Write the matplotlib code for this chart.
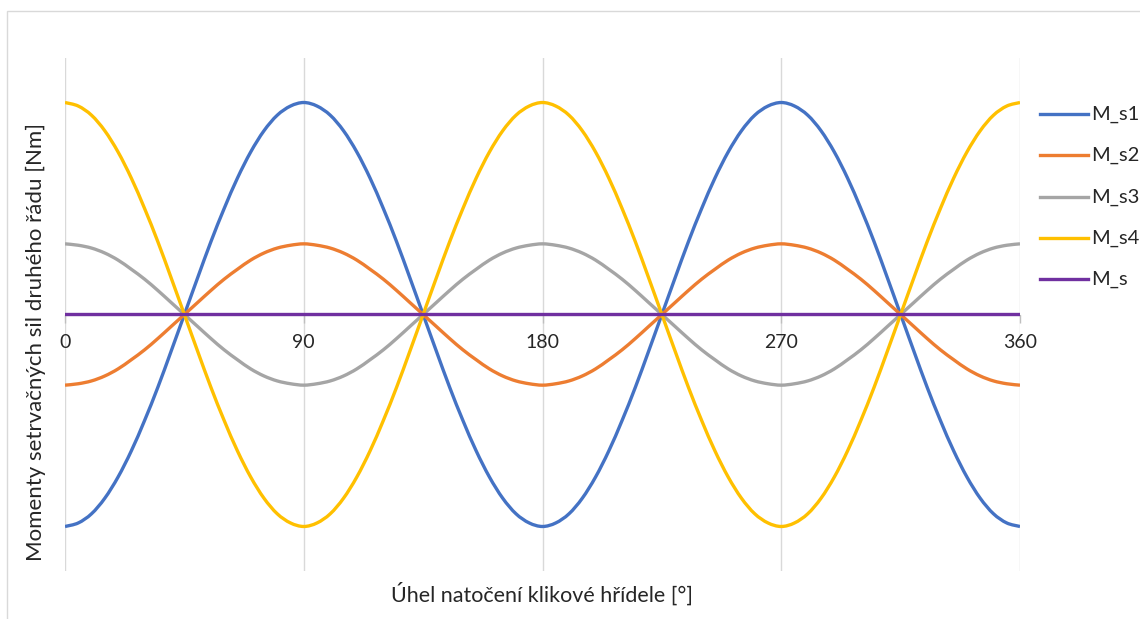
import matplotlib
matplotlib.use("Agg")
import matplotlib.pyplot as plt
from matplotlib.patches import Rectangle, PathPatch
from matplotlib.path import Path
from matplotlib.lines import Line2D

plt.rcParams['font.family'] = ['Lato', 'DejaVu Sans']

# ---- data (angle in degrees, moments, relative units) ----
angle = [0, 5, 10, 15, 20, 25, 30, 35, 40, 45, 50, 55, 60, 65, 70, 75, 80, 85, 90,
         95, 100, 105, 110, 115, 120, 125, 130, 135, 140, 145, 150, 155, 160, 165, 170, 175, 180,
         185, 190, 195, 200, 205, 210, 215, 220, 225, 230, 235, 240, 245, 250, 255, 260, 265, 270,
         275, 280, 285, 290, 295, 300, 305, 310, 315, 320, 325, 330, 335, 340, 345, 350, 355, 360]

M_s1 = [-3.00, -2.95, -2.82, -2.60, -2.30, -1.93, -1.50, -1.03, -0.52, 0.00, 0.52, 1.03, 1.50, 1.93, 2.30, 2.60, 2.82, 2.95, 3.00,
        2.95, 2.82, 2.60, 2.30, 1.93, 1.50, 1.03, 0.52, 0.00, -0.52, -1.03, -1.50, -1.93, -2.30, -2.60, -2.82, -2.95, -3.00,
        -2.95, -2.82, -2.60, -2.30, -1.93, -1.50, -1.03, -0.52, 0.00, 0.52, 1.03, 1.50, 1.93, 2.30, 2.60, 2.82, 2.95, 3.00,
        2.95, 2.82, 2.60, 2.30, 1.93, 1.50, 1.03, 0.52, 0.00, -0.52, -1.03, -1.50, -1.93, -2.30, -2.60, -2.82, -2.95, -3.00]

M_s2 = [-1.00, -0.98, -0.94, -0.87, -0.77, -0.64, -0.50, -0.34, -0.17, 0.00, 0.17, 0.34, 0.50, 0.64, 0.77, 0.87, 0.94, 0.98, 1.00,
        0.98, 0.94, 0.87, 0.77, 0.64, 0.50, 0.34, 0.17, 0.00, -0.17, -0.34, -0.50, -0.64, -0.77, -0.87, -0.94, -0.98, -1.00,
        -0.98, -0.94, -0.87, -0.77, -0.64, -0.50, -0.34, -0.17, 0.00, 0.17, 0.34, 0.50, 0.64, 0.77, 0.87, 0.94, 0.98, 1.00,
        0.98, 0.94, 0.87, 0.77, 0.64, 0.50, 0.34, 0.17, 0.00, -0.17, -0.34, -0.50, -0.64, -0.77, -0.87, -0.94, -0.98, -1.00]

M_s3 = [1.00, 0.98, 0.94, 0.87, 0.77, 0.64, 0.50, 0.34, 0.17, 0.00, -0.17, -0.34, -0.50, -0.64, -0.77, -0.87, -0.94, -0.98, -1.00,
        -0.98, -0.94, -0.87, -0.77, -0.64, -0.50, -0.34, -0.17, 0.00, 0.17, 0.34, 0.50, 0.64, 0.77, 0.87, 0.94, 0.98, 1.00,
        0.98, 0.94, 0.87, 0.77, 0.64, 0.50, 0.34, 0.17, 0.00, -0.17, -0.34, -0.50, -0.64, -0.77, -0.87, -0.94, -0.98, -1.00,
        -0.98, -0.94, -0.87, -0.77, -0.64, -0.50, -0.34, -0.17, 0.00, 0.17, 0.34, 0.50, 0.64, 0.77, 0.87, 0.94, 0.98, 1.00]

M_s4 = [3.00, 2.95, 2.82, 2.60, 2.30, 1.93, 1.50, 1.03, 0.52, 0.00, -0.52, -1.03, -1.50, -1.93, -2.30, -2.60, -2.82, -2.95, -3.00,
        -2.95, -2.82, -2.60, -2.30, -1.93, -1.50, -1.03, -0.52, 0.00, 0.52, 1.03, 1.50, 1.93, 2.30, 2.60, 2.82, 2.95, 3.00,
        2.95, 2.82, 2.60, 2.30, 1.93, 1.50, 1.03, 0.52, 0.00, -0.52, -1.03, -1.50, -1.93, -2.30, -2.60, -2.82, -2.95, -3.00,
        -2.95, -2.82, -2.60, -2.30, -1.93, -1.50, -1.03, -0.52, 0.00, 0.52, 1.03, 1.50, 1.93, 2.30, 2.60, 2.82, 2.95, 3.00]

M_s = [0.0] * len(angle)

series_names = ["M_s1", "M_s2", "M_s3", "M_s4", "M_s"]
x_ticks = [0, 90, 180, 270, 360]
x_title = "Úhel natočení klikové hřídele [°]"
y_title = "Momenty setrvačných sil druhého řádu [Nm]"

colors = ["#4472C4", "#ED7D31", "#A5A5A5", "#FFC000", "#7030A0"]


def smooth_path(xs, ys):
    """Smoothed line through the data points (like a spreadsheet's smoothed line)."""
    n = len(xs)
    verts = [(xs[0], ys[0])]
    codes = [Path.MOVETO]
    for i in range(n - 1):
        i0 = max(i - 1, 0)
        i3 = min(i + 2, n - 1)
        c1 = (xs[i] + (xs[i + 1] - xs[i0]) / 6, ys[i] + (ys[i + 1] - ys[i0]) / 6)
        c2 = (xs[i + 1] - (xs[i3] - xs[i]) / 6, ys[i + 1] - (ys[i3] - ys[i]) / 6)
        verts += [c1, c2, (xs[i + 1], ys[i + 1])]
        codes += [Path.CURVE4, Path.CURVE4, Path.CURVE4]
    return Path(verts, codes)


W, H = 1140, 619
fig = plt.figure(figsize=(W / 100, H / 100), dpi=100)
fig.patches.append(Rectangle((7 / W, -0.05), 1.2, (H - 11) / H + 0.05, transform=fig.transFigure,
                             fill=False, edgecolor="#D9D9D9", linewidth=1.0))

ax = fig.add_axes([65 / W, (H - 571) / H, (1020 - 65) / W, (571 - 58) / H])
for vals, c in zip([M_s1, M_s2, M_s3, M_s4, M_s], colors):
    ax.add_patch(PathPatch(smooth_path(angle, vals), facecolor="none", edgecolor=c,
                           linewidth=2.4, capstyle="butt", zorder=3))

ax.set_xlim(0, 360)
ax.set_ylim(-3.63, 3.63)
ax.set_xticks(x_ticks)
ax.set_xticklabels([str(t) for t in x_ticks])
ax.set_yticks([])
ax.grid(axis="x", color="#D9D9D9", linewidth=1.0, zorder=0)
for s in ["left", "right", "top"]:
    ax.spines[s].set_visible(False)
ax.spines["bottom"].set_position(("data", 0))
ax.spines["bottom"].set_color("#BFBFBF")
ax.tick_params(axis="x", length=6, width=1, color="#BFBFBF", pad=8, labelsize=14, labelcolor="#262626")

fig.text(542 / W, 1 - 594 / H, x_title, ha="center", va="center", fontsize=15.5, color="#262626")
fig.text(36 / W, 1 - 342 / H, y_title, ha="center", va="center", rotation=90, fontsize=16, color="#262626")

# legend (right side)
leg_y = [114, 155, 197, 238, 279]
for name, c, yy in zip(series_names, colors, leg_y):
    fig.add_artist(Line2D([1040 / W, 1088 / W], [1 - yy / H, 1 - yy / H], color=c, linewidth=2.4,
                          transform=fig.transFigure))
    fig.text(1091 / W, 1 - yy / H, name, ha="left", va="center", fontsize=14.5, color="#262626")

fig.savefig("out.png", dpi=100)
